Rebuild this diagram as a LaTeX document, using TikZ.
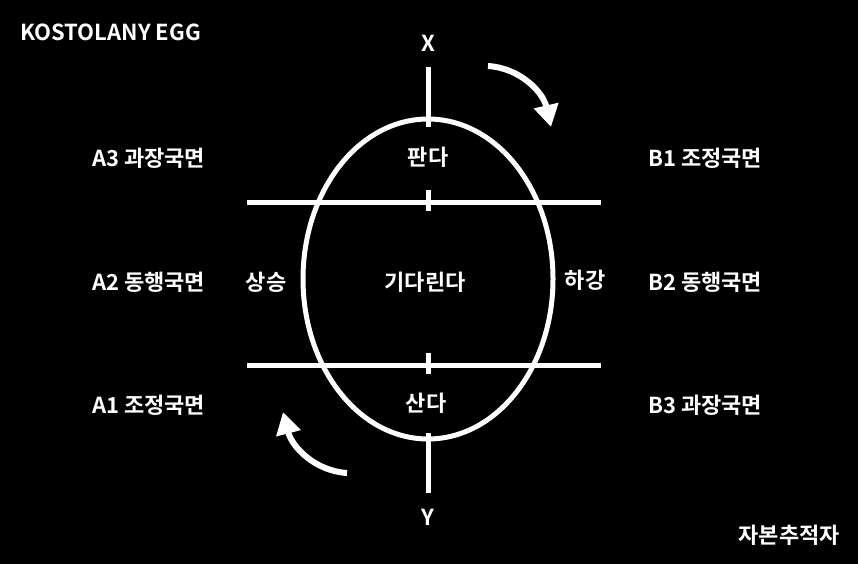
\documentclass[tikz,border=0pt]{standalone}
\usepackage{fontspec}
\setmainfont{Noto Sans CJK KR}[BoldFont=* Bold]
\usetikzlibrary{arrows.meta,shapes.geometric}
\tikzset{
  lbl/.style={text=white, font=\bfseries\fontsize{22}{24}\selectfont, inner sep=0pt},
  wline/.style={draw=white, line width=5pt},
  turn/.style={draw=white, line width=6pt, -{Triangle[length=22pt,width=24pt]}}
}
\begin{document}
\begin{tikzpicture}[x=1pt, y=-1pt]
\fill[black] (0,0) rectangle (858,564);
\useasboundingbox (0,0) rectangle (858,564);

% egg
\node[wline, ellipse, minimum width=250pt, minimum height=320pt, inner sep=0pt] (egg) at (428,279) {};
\coordinate (xtop) at (428,67);
\coordinate (xin) at (428,127);
\coordinate (ybot) at (428,493);
\coordinate (yin) at (428,433);
\draw[wline] (xtop) -- (xin);
\draw[wline] (yin) -- (ybot);

% phase lines
\coordinate (upL) at (247,202);
\coordinate (upR) at (601,202);
\coordinate (loL) at (247,365);
\coordinate (loR) at (601,365);
\draw[wline] (upL) -- (upR);
\draw[wline] (loL) -- (loR);
\draw[wline] (428,190) -- (428,211);
\draw[wline] (428,353) -- (428,374);

% turning arrows
\coordinate (arA) at (488,66);
\coordinate (arB) at (551,127);
\coordinate (arC) at (347,473);
\coordinate (arD) at (283,412);
\draw[turn] (arA) .. controls (520,68) and (543,92) .. (arB);
\draw[turn] (arC) .. controls (315,471) and (292,447) .. (arD);

% labels
\node[lbl, anchor=west] (title) at (20,32) {KOSTOLANY EGG};
\node[lbl] (xlab) at (428,43) {X};
\node[lbl] (ylab) at (428,517) {Y};

\node[lbl, anchor=west] (a3) at (92,158) {A3 과장국면};
\node[lbl, anchor=west] (a2) at (92,282) {A2 동행국면};
\node[lbl, anchor=west] (a1) at (92,405) {A1 조정국면};
\node[lbl, anchor=west] (b1) at (648,158) {B1 조정국면};
\node[lbl, anchor=west] (b2) at (648,282) {B2 동행국면};
\node[lbl, anchor=west] (b3) at (648,405) {B3 과장국면};

\node[lbl] (up) at (266,282) {상승};
\node[lbl] (down) at (585,280) {하강};
\node[lbl] (sell) at (428,157) {판다};
\node[lbl] (wait) at (425,282) {기다린다};
\node[lbl] (buy) at (426,403) {산다};

\node[lbl, anchor=east] (sig) at (840,535) {자본추적자};
\end{tikzpicture}
\end{document}
